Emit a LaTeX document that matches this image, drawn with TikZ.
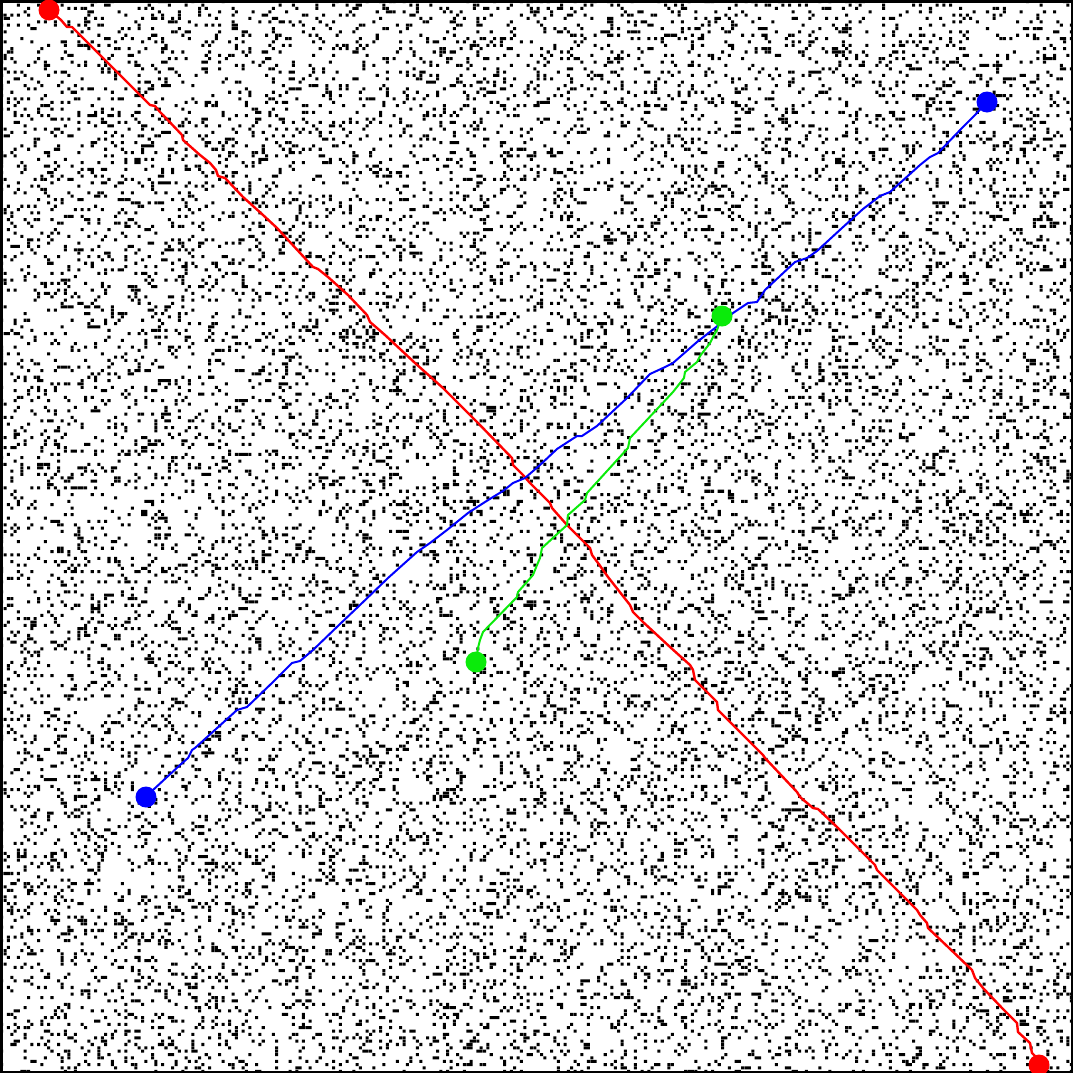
\documentclass[tikz,border=0pt]{standalone}
\definecolor{pathred}{RGB}{255,0,0}
\definecolor{pathblue}{RGB}{0,0,255}
\definecolor{pathgreen}{RGB}{10,235,10}
\makeatletter
\newcommand\dotliteral[1]{\pgfsys@invoke{#1}}
\makeatother
\tikzset{
  route/.style={line width=2bp, line join=round, line cap=round},
  endball/.style={circle, inner sep=0pt, minimum size=21bp, fill=#1}
}
\begin{document}
\begin{tikzpicture}[x=1bp,y=-1bp]
\useasboundingbox (0,0) rectangle (1073,1073);
\fill[white] (0,0) rectangle (1073,1073);
\pgfmathsetseed{4711}
\foreach \r in {0,...,319}{%
  \gdef\rowlit{}%
  \foreach \i in {1,...,55}{%
    \pgfmathrandominteger{\cx}{0}{319}%
    \xdef\rowlit{\rowlit\cx.06 \r.06 .9 .9 re }%
  }%
  \dotliteral{q 0 g 3.353 0 0 -3.353 0 0 cm \rowlit f Q}%
}
\draw[line width=2.5bp] (1.25,1.25) rectangle (1071.75,1071.75);
% end points
\coordinate (rA) at (49,10);
\coordinate (rB) at (1039,1065);
\coordinate (bA) at (146,797);
\coordinate (bB) at (987,102);
\coordinate (gA) at (722,316);
\coordinate (gB) at (476,662);
% red route
\draw[route, pathred, line width=2.4bp] (rA) -- (61,20) -- (67,27) -- (72,27) -- (150,105) -- (155,106) -- (160,112) -- (163,115) -- (182,135) -- (183,140) -- (200,155) -- (210,163) -- (216,170) -- (218,176) -- (225,178) -- (243,197) -- (263,215) -- (277,228) -- (313,267) -- (318,269) -- (328,277) -- (348,295) -- (367,315) -- (370,322) -- (377,328) -- (385,335) -- (415,363) -- (443,388) -- (478,423) -- (512,458) -- (513,465) -- (523,475) -- (530,483) -- (550,503) -- (552,508) -- (567,525) -- (590,548) -- (592,555) -- (598,563) -- (608,577) -- (630,605) -- (633,612) -- (643,622) -- (670,647) -- (690,665) -- (693,670) -- (695,680) -- (717,702) -- (718,710) -- (730,722) -- (745,737) -- (763,755) -- (765,758) -- (797,792) -- (800,797) -- (813,808) -- (818,809) -- (837,827) -- (875,865) -- (877,870) -- (917,910) -- (920,915) -- (927,923) -- (928,928) -- (948,947) -- (972,970) -- (975,978) -- (983,988) -- (1002,1008) -- (1017,1023) -- (1018,1032) -- (1030,1043) -- (1032,1053) -- (1037,1058) -- (rB);
% blue route
\draw[route, pathblue] (bA) -- (153,790) -- (180,765) -- (188,758) -- (192,750) -- (195,748) -- (237,710) -- (247,707) -- (273,682) -- (292,663) -- (300,661) -- (313,650) -- (340,624) -- (360,605) -- (388,578) -- (417,552) -- (430,543) -- (447,530) -- (468,513) -- (485,502) -- (493,497) -- (503,491) -- (513,483) -- (525,478) -- (540,465) -- (557,449) -- (577,436) -- (582,436) -- (597,426) -- (627,398) -- (650,374) -- (663,368) -- (673,363) -- (697,342) -- (715,328) -- (733,313) -- (748,303) -- (757,302) -- (765,290) -- (795,262) -- (807,258) -- (817,251) -- (842,228) -- (863,209) -- (880,196) -- (890,192) -- (900,183) -- (920,165) -- (930,157) -- (938,153) -- (962,128) -- (975,115) -- (bB);
% green route
\draw[route, pathgreen] (gA) -- (717,330) -- (713,337) -- (710,343) -- (700,356) -- (697,362) -- (685,372) -- (684,378) -- (673,392) -- (630,438) -- (628,448) -- (587,493) -- (585,500) -- (568,515) -- (567,525) -- (542,548) -- (540,558) -- (537,565) -- (533,575) -- (518,592) -- (517,597) -- (483,632) -- (480,640) -- (478,648) -- (gB);
% end balls
\node[endball=pathred] (redstart) at (rA) {};
\node[endball=pathred] (redend) at (rB) {};
\node[endball=pathblue] (bluestart) at (bA) {};
\node[endball=pathblue] (blueend) at (bB) {};
\node[endball=pathgreen] (greenstart) at (gA) {};
\node[endball=pathgreen] (greenend) at (gB) {};
\end{tikzpicture}
\end{document}
